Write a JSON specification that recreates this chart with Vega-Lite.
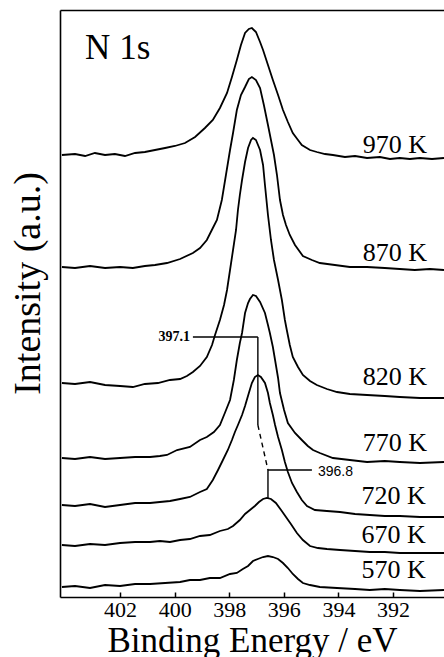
{
 "$schema": "https://vega.github.io/schema/vega-lite/v6.json",
 "width": 384, "height": 587,
 "autosize": {"type": "none"},
 "padding": {"left": 60, "top": 10, "right": 0, "bottom": 60},
 "background": "white",
 "config": {"view": {"stroke": null}, "font": "Liberation Serif"},
 "datasets": {
  "spectra": [
   {"T":"970","E":404.13,"I":442},{"T":"970","E":403.65,"I":443},{"T":"970","E":403.28,"I":441},{"T":"970","E":402.92,"I":444},{"T":"970","E":402.55,"I":442},{"T":"970","E":402.19,"I":443},{"T":"970","E":401.82,"I":441},{"T":"970","E":401.45,"I":444},{"T":"970","E":401.09,"I":445},{"T":"970","E":400.72,"I":447},{"T":"970","E":400.35,"I":449},{"T":"970","E":399.99,"I":451},{"T":"970","E":399.62,"I":454},{"T":"970","E":399.25,"I":460},{"T":"970","E":398.89,"I":469},{"T":"970","E":398.60,"I":477},{"T":"970","E":398.34,"I":489},{"T":"970","E":398.08,"I":504},{"T":"970","E":397.90,"I":520},{"T":"970","E":397.72,"I":537},{"T":"970","E":397.57,"I":552},{"T":"970","E":397.42,"I":564},{"T":"970","E":397.28,"I":568},{"T":"970","E":397.17,"I":569},{"T":"970","E":397.02,"I":565},{"T":"970","E":396.87,"I":555},{"T":"970","E":396.76,"I":547},{"T":"970","E":396.58,"I":532},{"T":"970","E":396.40,"I":517},{"T":"970","E":396.21,"I":502},{"T":"970","E":396.03,"I":487},{"T":"970","E":395.85,"I":475},{"T":"970","E":395.67,"I":464},{"T":"970","E":395.48,"I":457},{"T":"970","E":395.34,"I":452},{"T":"970","E":395.04,"I":447},{"T":"970","E":394.79,"I":445},{"T":"970","E":394.49,"I":443},{"T":"970","E":394.20,"I":442},{"T":"970","E":393.76,"I":440},{"T":"970","E":393.39,"I":441},{"T":"970","E":392.95,"I":439},{"T":"970","E":392.48,"I":440},{"T":"970","E":392.11,"I":438},{"T":"970","E":391.75,"I":439},{"T":"970","E":391.38,"I":438},{"T":"970","E":391.01,"I":439},{"T":"970","E":390.57,"I":438},{"T":"970","E":390.13,"I":439},
   {"T":"870","E":404.13,"I":330},{"T":"870","E":403.65,"I":329},{"T":"870","E":403.10,"I":331},{"T":"870","E":402.55,"I":329},{"T":"870","E":402.00,"I":330},{"T":"870","E":401.53,"I":329},{"T":"870","E":401.09,"I":331},{"T":"870","E":400.72,"I":332},{"T":"870","E":400.28,"I":334},{"T":"870","E":399.80,"I":338},{"T":"870","E":399.33,"I":344},{"T":"870","E":399.07,"I":349},{"T":"870","E":398.82,"I":357},{"T":"870","E":398.60,"I":369},{"T":"870","E":398.45,"I":377},{"T":"870","E":398.27,"I":397},{"T":"870","E":398.12,"I":422},{"T":"870","E":397.97,"I":447},{"T":"870","E":397.86,"I":464},{"T":"870","E":397.72,"I":487},{"T":"870","E":397.57,"I":502},{"T":"870","E":397.42,"I":510},{"T":"870","E":397.28,"I":518},{"T":"870","E":397.17,"I":520},{"T":"870","E":397.02,"I":517},{"T":"870","E":396.87,"I":509},{"T":"870","E":396.73,"I":492},{"T":"870","E":396.58,"I":472},{"T":"870","E":396.47,"I":457},{"T":"870","E":396.36,"I":442},{"T":"870","E":396.25,"I":422},{"T":"870","E":396.14,"I":397},{"T":"870","E":396.03,"I":382},{"T":"870","E":395.92,"I":372},{"T":"870","E":395.78,"I":362},{"T":"870","E":395.59,"I":352},{"T":"870","E":395.30,"I":341},{"T":"870","E":394.97,"I":337},{"T":"870","E":394.68,"I":334},{"T":"870","E":394.13,"I":332},{"T":"870","E":393.58,"I":330},{"T":"870","E":392.95,"I":330},{"T":"870","E":392.30,"I":329},{"T":"870","E":391.75,"I":328},{"T":"870","E":391.20,"I":327},{"T":"870","E":390.65,"I":328},{"T":"870","E":390.13,"I":327},
   {"T":"820","E":404.13,"I":214},{"T":"820","E":403.65,"I":213},{"T":"820","E":403.10,"I":215},{"T":"820","E":402.55,"I":212},{"T":"820","E":402.00,"I":211},{"T":"820","E":401.53,"I":210},{"T":"820","E":401.09,"I":213},{"T":"820","E":400.61,"I":214},{"T":"820","E":400.17,"I":217},{"T":"820","E":399.80,"I":218},{"T":"820","E":399.55,"I":221},{"T":"820","E":399.33,"I":225},{"T":"820","E":399.07,"I":231},{"T":"820","E":398.82,"I":240},{"T":"820","E":398.63,"I":252},{"T":"820","E":398.52,"I":262},{"T":"820","E":398.34,"I":277},{"T":"820","E":398.19,"I":292},{"T":"820","E":398.08,"I":307},{"T":"820","E":397.97,"I":327},{"T":"820","E":397.86,"I":347},{"T":"820","E":397.75,"I":367},{"T":"820","E":397.68,"I":387},{"T":"820","E":397.61,"I":402},{"T":"820","E":397.53,"I":417},{"T":"820","E":397.42,"I":435},{"T":"820","E":397.31,"I":449},{"T":"820","E":397.20,"I":457},{"T":"820","E":397.13,"I":459},{"T":"820","E":397.02,"I":457},{"T":"820","E":396.87,"I":447},{"T":"820","E":396.76,"I":432},{"T":"820","E":396.69,"I":412},{"T":"820","E":396.58,"I":382},{"T":"820","E":396.47,"I":357},{"T":"820","E":396.36,"I":337},{"T":"820","E":396.21,"I":317},{"T":"820","E":396.07,"I":297},{"T":"820","E":395.96,"I":277},{"T":"820","E":395.89,"I":267},{"T":"820","E":395.78,"I":252},{"T":"820","E":395.67,"I":240},{"T":"820","E":395.48,"I":230},{"T":"820","E":395.30,"I":222},{"T":"820","E":395.04,"I":216},{"T":"820","E":394.79,"I":212},{"T":"820","E":394.42,"I":208},{"T":"820","E":394.05,"I":205},{"T":"820","E":393.58,"I":203},{"T":"820","E":392.95,"I":202},{"T":"820","E":392.30,"I":201},{"T":"820","E":391.75,"I":200},{"T":"820","E":391.01,"I":199},{"T":"820","E":390.13,"I":199},
   {"T":"770","E":404.13,"I":139},{"T":"770","E":403.65,"I":138},{"T":"770","E":403.10,"I":140},{"T":"770","E":402.55,"I":138},{"T":"770","E":402.00,"I":139},{"T":"770","E":401.45,"I":140},{"T":"770","E":400.90,"I":140},{"T":"770","E":400.54,"I":141},{"T":"770","E":400.28,"I":142},{"T":"770","E":399.91,"I":147},{"T":"770","E":399.44,"I":150},{"T":"770","E":399.07,"I":157},{"T":"770","E":398.82,"I":160},{"T":"770","E":398.56,"I":165},{"T":"770","E":398.34,"I":172},{"T":"770","E":398.16,"I":184},{"T":"770","E":397.97,"I":197},{"T":"770","E":397.83,"I":217},{"T":"770","E":397.72,"I":237},{"T":"770","E":397.61,"I":254},{"T":"770","E":397.53,"I":264},{"T":"770","E":397.42,"I":284},{"T":"770","E":397.31,"I":294},{"T":"770","E":397.24,"I":298},{"T":"770","E":397.13,"I":302},{"T":"770","E":397.02,"I":301},{"T":"770","E":396.87,"I":295},{"T":"770","E":396.69,"I":284},{"T":"770","E":396.58,"I":272},{"T":"770","E":396.51,"I":264},{"T":"770","E":396.40,"I":250},{"T":"770","E":396.32,"I":237},{"T":"770","E":396.21,"I":219},{"T":"770","E":396.14,"I":204},{"T":"770","E":395.99,"I":187},{"T":"770","E":395.85,"I":174},{"T":"770","E":395.59,"I":164},{"T":"770","E":395.34,"I":157},{"T":"770","E":395.12,"I":151},{"T":"770","E":394.93,"I":147},{"T":"770","E":394.68,"I":144},{"T":"770","E":394.20,"I":139},{"T":"770","E":393.58,"I":137},{"T":"770","E":392.95,"I":135},{"T":"770","E":392.30,"I":136},{"T":"770","E":391.75,"I":135},{"T":"770","E":391.01,"I":134},{"T":"770","E":390.13,"I":135},
   {"T":"720","E":404.13,"I":92},{"T":"720","E":403.65,"I":91},{"T":"720","E":403.10,"I":93},{"T":"720","E":402.55,"I":90},{"T":"720","E":402.00,"I":92},{"T":"720","E":401.45,"I":94},{"T":"720","E":400.90,"I":94},{"T":"720","E":400.54,"I":95},{"T":"720","E":400.17,"I":96},{"T":"720","E":399.80,"I":98},{"T":"720","E":399.44,"I":100},{"T":"720","E":399.07,"I":105},{"T":"720","E":398.82,"I":108},{"T":"720","E":398.60,"I":117},{"T":"720","E":398.41,"I":127},{"T":"720","E":398.23,"I":137},{"T":"720","E":398.05,"I":147},{"T":"720","E":397.90,"I":157},{"T":"720","E":397.79,"I":165},{"T":"720","E":397.68,"I":172},{"T":"720","E":397.53,"I":182},{"T":"720","E":397.42,"I":191},{"T":"720","E":397.28,"I":204},{"T":"720","E":397.17,"I":214},{"T":"720","E":397.06,"I":220},{"T":"720","E":396.95,"I":222},{"T":"720","E":396.84,"I":220},{"T":"720","E":396.69,"I":214},{"T":"720","E":396.58,"I":204},{"T":"720","E":396.51,"I":194},{"T":"720","E":396.40,"I":182},{"T":"720","E":396.32,"I":172},{"T":"720","E":396.21,"I":160},{"T":"720","E":396.07,"I":147},{"T":"720","E":395.96,"I":135},{"T":"720","E":395.85,"I":125},{"T":"720","E":395.70,"I":114},{"T":"720","E":395.52,"I":105},{"T":"720","E":395.34,"I":97},{"T":"720","E":395.15,"I":91},{"T":"720","E":394.86,"I":87},{"T":"720","E":394.42,"I":86},{"T":"720","E":393.94,"I":85},{"T":"720","E":393.39,"I":83},{"T":"720","E":392.85,"I":82},{"T":"720","E":392.30,"I":81},{"T":"720","E":391.75,"I":81},{"T":"720","E":391.01,"I":80},{"T":"720","E":390.13,"I":80},
   {"T":"670","E":404.13,"I":52},{"T":"670","E":403.65,"I":51},{"T":"670","E":403.10,"I":53},{"T":"670","E":402.55,"I":52},{"T":"670","E":402.00,"I":54},{"T":"670","E":401.45,"I":55},{"T":"670","E":400.90,"I":55},{"T":"670","E":400.54,"I":56},{"T":"670","E":400.17,"I":55},{"T":"670","E":399.80,"I":57},{"T":"670","E":399.44,"I":58},{"T":"670","E":399.07,"I":61},{"T":"670","E":398.71,"I":62},{"T":"670","E":398.34,"I":66},{"T":"670","E":398.05,"I":68},{"T":"670","E":397.86,"I":71},{"T":"670","E":397.61,"I":77},{"T":"670","E":397.42,"I":83},{"T":"670","E":397.24,"I":87},{"T":"670","E":397.06,"I":91},{"T":"670","E":396.91,"I":95},{"T":"670","E":396.76,"I":98},{"T":"670","E":396.62,"I":99},{"T":"670","E":396.47,"I":98},{"T":"670","E":396.29,"I":94},{"T":"670","E":396.10,"I":87},{"T":"670","E":395.92,"I":80},{"T":"670","E":395.74,"I":73},{"T":"670","E":395.52,"I":64},{"T":"670","E":395.30,"I":57},{"T":"670","E":395.04,"I":51},{"T":"670","E":394.75,"I":49},{"T":"670","E":394.42,"I":48},{"T":"670","E":393.94,"I":47},{"T":"670","E":393.39,"I":46},{"T":"670","E":392.85,"I":45},{"T":"670","E":392.30,"I":45},{"T":"670","E":391.75,"I":44},{"T":"670","E":391.01,"I":44},{"T":"670","E":390.13,"I":44},
   {"T":"570","E":404.13,"I":10},{"T":"570","E":403.65,"I":11},{"T":"570","E":403.10,"I":9},{"T":"570","E":402.55,"I":12},{"T":"570","E":402.00,"I":11},{"T":"570","E":401.45,"I":13},{"T":"570","E":400.90,"I":13},{"T":"570","E":400.35,"I":14},{"T":"570","E":399.80,"I":15},{"T":"570","E":399.44,"I":17},{"T":"570","E":399.07,"I":17},{"T":"570","E":398.71,"I":19},{"T":"570","E":398.34,"I":19},{"T":"570","E":397.97,"I":23},{"T":"570","E":397.72,"I":24},{"T":"570","E":397.50,"I":28},{"T":"570","E":397.31,"I":31},{"T":"570","E":397.13,"I":36},{"T":"570","E":396.95,"I":38},{"T":"570","E":396.76,"I":40},{"T":"570","E":396.58,"I":41},{"T":"570","E":396.40,"I":40},{"T":"570","E":396.21,"I":38},{"T":"570","E":396.03,"I":34},{"T":"570","E":395.85,"I":29},{"T":"570","E":395.67,"I":23},{"T":"570","E":395.48,"I":18},{"T":"570","E":395.30,"I":14},{"T":"570","E":395.04,"I":12},{"T":"570","E":394.68,"I":10},{"T":"570","E":394.05,"I":9},{"T":"570","E":393.39,"I":8},{"T":"570","E":392.85,"I":7},{"T":"570","E":392.30,"I":8},{"T":"570","E":391.75,"I":7},{"T":"570","E":391.01,"I":6},{"T":"570","E":390.13,"I":7}
  ],
  "solidSegs": [
   {"E1":399.33,"I1":260,"E2":396.95,"I2":260},
   {"E1":396.95,"I1":260,"E2":396.95,"I2":172},
   {"E1":396.58,"I1":99,"E2":396.58,"I2":127},
   {"E1":396.58,"I1":127,"E2":394.97,"I2":127}
  ],
  "dashSegs": [
   {"E1":396.95,"I1":172,"E2":396.58,"I2":127}
  ],
  "tempLabels": [
   {"label":"970 K","E":390.75,"I":452},
   {"label":"870 K","E":390.75,"I":344},
   {"label":"820 K","E":390.75,"I":220},
   {"label":"770 K","E":390.75,"I":154},
   {"label":"720 K","E":390.8,"I":101},
   {"label":"670 K","E":390.8,"I":62},
   {"label":"570 K","E":390.8,"I":27}
  ]
 },
 "resolve": {"axis": {"x": "independent"}},
 "layer": [
  {
   "data": {"name": "spectra"},
   "mark": {"type": "line", "color": "black", "strokeWidth": 1.8},
   "encoding": {
    "x": {"field": "E", "type": "quantitative",
     "scale": {"domain": [390.13, 404.2], "reverse": true, "nice": false, "zero": false},
     "axis": {"orient": "bottom", "values": [392, 394, 396, 398, 400, 402], "format": "d", "grid": false,
      "tickSize": -5, "tickColor": "black", "tickWidth": 1.5,
      "domainColor": "black", "domainWidth": 1.6,
      "labelFont": "Liberation Serif", "labelFontSize": 22, "labelColor": "black", "labelPadding": 7,
      "labelFlush": false, "labelOverlap": false,
      "title": "Binding Energy / eV", "titleFont": "Liberation Serif", "titleFontSize": 35,
      "titleFontWeight": "normal", "titleColor": "black", "titlePadding": 3}},
    "y": {"field": "I", "type": "quantitative",
     "scale": {"domain": [0, 587], "nice": false, "zero": false},
     "axis": {"orient": "left", "grid": false, "ticks": false, "labels": false,
      "domainColor": "black", "domainWidth": 1.6,
      "title": "Intensity (a.u.)", "titleFont": "Liberation Serif", "titleFontSize": 38,
      "titleFontWeight": "normal", "titleColor": "black",
      "titleX": -32, "titleY": 273, "titleAngle": -90, "titleBaseline": "middle", "titleAlign": "center"}},
    "detail": {"field": "T", "type": "nominal"}
   }
  },
  {
   "data": {"name": "solidSegs"},
   "mark": {"type": "rule", "color": "black", "strokeWidth": 1.4},
   "encoding": {
    "x": {"field": "E1", "type": "quantitative",
     "axis": {"orient": "top", "labels": false, "ticks": false, "grid": false, "title": null,
      "domainColor": "black", "domainWidth": 1.6}},
    "y": {"field": "I1", "type": "quantitative"},
    "x2": {"field": "E2"},
    "y2": {"field": "I2"}
   }
  },
  {
   "data": {"name": "dashSegs"},
   "mark": {"type": "rule", "color": "black", "strokeWidth": 1.4, "strokeDash": [5, 4]},
   "encoding": {
    "x": {"field": "E1", "type": "quantitative", "axis": null},
    "y": {"field": "I1", "type": "quantitative"},
    "x2": {"field": "E2"},
    "y2": {"field": "I2"}
   }
  },
  {
   "data": {"name": "tempLabels"},
   "mark": {"type": "text", "align": "right", "baseline": "middle", "font": "Liberation Serif", "fontSize": 26, "color": "black"},
   "encoding": {
    "x": {"field": "E", "type": "quantitative", "axis": null},
    "y": {"field": "I", "type": "quantitative"},
    "text": {"field": "label"}
   }
  },
  {
   "data": {"values": [{"label": "N 1s", "E": 403.28, "I": 549}]},
   "mark": {"type": "text", "align": "left", "baseline": "middle", "font": "Liberation Serif", "fontSize": 35, "color": "black"},
   "encoding": {
    "x": {"field": "E", "type": "quantitative", "axis": null},
    "y": {"field": "I", "type": "quantitative"},
    "text": {"field": "label"}
   }
  },
  {
   "data": {"values": [{"label": "397.1", "E": 399.44, "I": 260}]},
   "mark": {"type": "text", "align": "right", "baseline": "middle", "font": "Liberation Serif", "fontSize": 14, "fontWeight": "bold", "color": "black"},
   "encoding": {
    "x": {"field": "E", "type": "quantitative", "axis": null},
    "y": {"field": "I", "type": "quantitative"},
    "text": {"field": "label"}
   }
  },
  {
   "data": {"values": [{"label": "396.8", "E": 394.75, "I": 125}]},
   "mark": {"type": "text", "align": "left", "baseline": "middle", "font": "Liberation Sans", "fontSize": 14, "color": "black"},
   "encoding": {
    "x": {"field": "E", "type": "quantitative", "axis": null},
    "y": {"field": "I", "type": "quantitative"},
    "text": {"field": "label"}
   }
  }
 ]
}
